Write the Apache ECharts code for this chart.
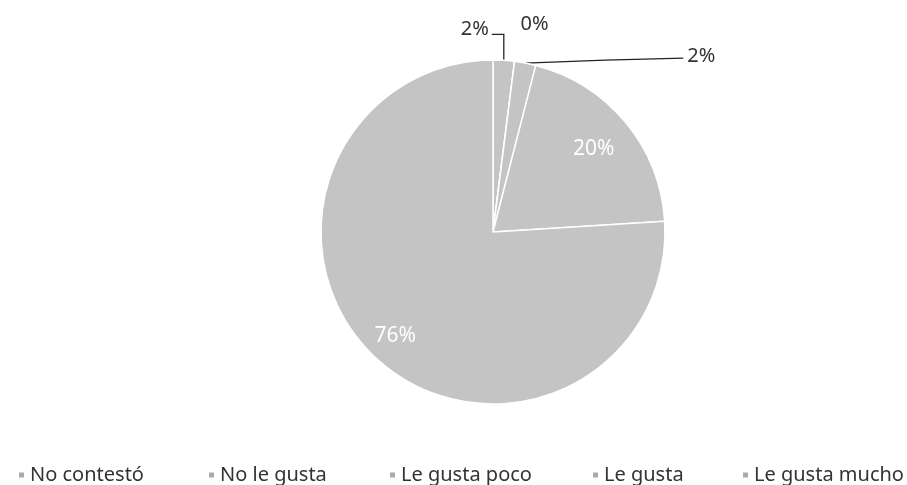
<!DOCTYPE html>
<html>
<head>
<meta charset="utf-8">
<script src="https://cdn.jsdelivr.net/npm/echarts@6/dist/echarts.min.js"></script>
<style>
  html, body { margin: 0; padding: 0; background: #fff; }
  #main { width: 907px; height: 485px; }
</style>
</head>
<body>
<div id="main"></div>
<script>
// datos de la encuesta (%)
const categories = ['No contestó', 'No le gusta', 'Le gusta poco', 'Le gusta', 'Le gusta mucho']
const values = [2, 0, 2, 20, 76]

// posicion de cada leyenda (px desde la izquierda)
const legendLeft = [12, 202, 383, 586, 736]

const cx = 493
const cy = 232
const R = 172
const font = '"Noto Sans", "Open Sans", sans-serif'
const total = values.reduce((a, b) => a + b, 0)

function midAngle(i) {
  let before = 0
  for (let k = 0; k < i; k++) before += values[k]
  return (before + values[i] / 2) / total * Math.PI * 2
}

function pointAt(i, r) {
  const a = midAngle(i)
  return [cx + r * Math.sin(a), cy - r * Math.cos(a)]
}

const seriesData = categories.map((name, i) => {
  const inside = i >= 3
  return {
    name: name,
    value: values[i],
    label: { color: inside ? '#ffffff' : '#333333', fontSize: inside ? 21 : 20 },
    labelLine: { show: i === 0 || i === 2 }
  }
})

const chart = echarts.init(document.getElementById('main'))
chart.setOption({
  animation: false,
  backgroundColor: '#ffffff',
  color: ['#c4c4c4'],
  textStyle: { fontFamily: font },
  legend: categories.map((name, i) => ({
    data: [name],
    left: legendLeft[i],
    top: 460,
    itemWidth: 7,
    itemHeight: 7,
    icon: 'rect',
    selectedMode: false,
    itemStyle: { color: '#aaaaaa' },
    textStyle: { fontFamily: font, fontSize: 20, color: '#333333' }
  })),
  series: [
    {
      type: 'pie',
      center: [cx, cy],
      radius: R,
      startAngle: 90,
      clockwise: true,
      avoidLabelOverlap: false,
      minShowLabelAngle: 0,
      itemStyle: { color: '#c4c4c4', borderColor: '#ffffff', borderWidth: 1.5 },
      label: {
        show: true,
        position: 'outside',
        formatter: '{d}%',
        fontFamily: font
      },
      labelLine: {
        lineStyle: { color: '#222222', width: 1.3 }
      },
      emphasis: { disabled: true },
      percentPrecision: 0,
      labelLayout: function(params) {
        const i = params.dataIndex
        const e = pointAt(i, R)
        if (i === 0) {
          return {
            x: e[0] - 15, y: e[1] - 31, align: 'right', verticalAlign: 'middle',
            labelLinePoints: [e, [e[0], e[1] - 26], [e[0] - 12, e[1] - 26]]
          }
        }
        if (i === 1) {
          return { x: e[0] + 20, y: e[1] - 37, align: 'center', verticalAlign: 'middle' }
        }
        if (i === 2) {
          return {
            x: e[0] + 162, y: e[1] - 7, align: 'left', verticalAlign: 'middle',
            labelLinePoints: [e, [e[0] + 80, e[1] - 3], [e[0] + 158, e[1] - 5]]
          }
        }
        const p = pointAt(i, R * (i === 3 ? 0.76 : 0.83))
        return { x: p[0], y: p[1], align: 'center', verticalAlign: 'middle' }
      },
      data: seriesData
    }
  ]
})
</script>
</body>
</html>
